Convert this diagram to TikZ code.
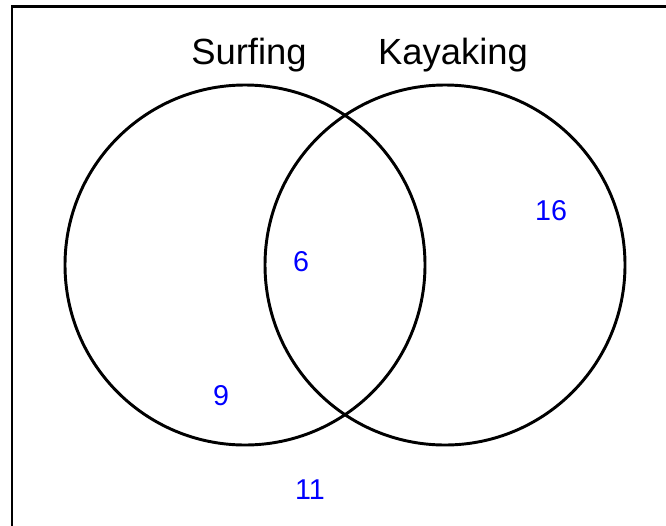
\documentclass[tikz,border=0pt]{standalone}
\usepackage{fontspec}
\setmainfont{Liberation Sans}
\usetikzlibrary{positioning}

\begin{document}
\begin{tikzpicture}[x=0.75pt, y=-0.75pt, every node/.style={inner sep=0pt},
  setcircle/.style={circle, draw, line width=2.2pt, minimum size=270pt},
  setname/.style={anchor=base, font=\fontsize{27.3}{31}\selectfont},
  count/.style={text=blue, font=\fontsize{21.5}{25}\selectfont}]
\useasboundingbox (0,0) rectangle (666,525);
\draw[line width=2.2pt] (12,540) -- (12,6.5) -- (680,6.5);

\node (surf) [setcircle] at (245,265) {};
\node (kayak) [setcircle] at (445,265) {};
\node (surflabel) [setname] at (249,64) {Surfing};
\node (kayaklabel) [setname] at (453,64) {Kayaking};

\node (both) [count] at (301,262) {6};
\node (onlykayak) [count] at (551,211) {16};
\node (onlysurf) [count] at (221,396) {9};
\node (neither) [count] at (310,490) {11};
\end{tikzpicture}
\end{document}
